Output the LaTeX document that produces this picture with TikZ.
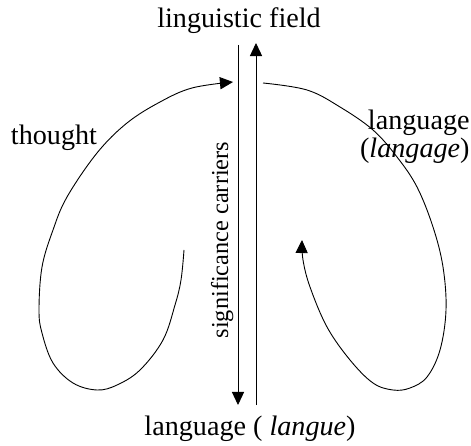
\documentclass[tikz,border=0pt]{standalone}
\usepackage{fontspec}
\setmainfont{Liberation Serif}
\usetikzlibrary{arrows.meta}

\begin{document}
\begin{tikzpicture}[x=0.444pt, y=-0.444pt, thin, >={Triangle[length=5.8pt,width=5.4pt]},
        loop/.style={smooth, tension=0.6},
        label/.style={inner sep=0pt, font=\fontsize{12.5}{11}\selectfont}]
        \useasboundingbox (0,0) rectangle (471,446);

        % Zwei Achsen
        \coordinate (down top) at (238,45);
        \coordinate (down end) at (238,405);
        \coordinate (up start) at (256,405);
        \coordinate (up end) at (256,43);
        \draw[->] (down top) -- (down end);
        \draw[->] (up start) -- (up end);

        % Schleife links
        \draw[->, loop] plot coordinates {(184,250) (181,280) (175,305) (163,340) (140,370)
            (117,385) (97,390) (73,383) (53,363) (42,333) (39,310) (42,267) (53,230)
            (67,197) (97,153) (127,123) (160,102) (192,88) (233,82)};

        % Schleife rechts
        \draw[->, loop] plot coordinates {(263,83) (307,90) (340,107) (373,130) (397,157)
            (417,187) (433,227) (443,267) (446,310) (440,350) (427,377) (410,388)
            (393,390) (373,383) (350,360) (327,327) (310,287) (303,260) (302,240)};

        % Beschriftungen
        \node[label, anchor=base] (field) at (239,28) {linguistic field};
        \node[label, anchor=base] (thought) at (54,145) {thought};
        \node[label, anchor=north east, align=right] (langage) at (470,110) {language\\(\textit{langage})};
        \node[label, anchor=base] (langue) at (250,435) {language ( \textit{langue})};
        \node[label, anchor=base, rotate=90, font=\fontsize{10.8}{12}\selectfont] (carriers) at (228,240) {significance carriers};
    \end{tikzpicture}
\end{document}
